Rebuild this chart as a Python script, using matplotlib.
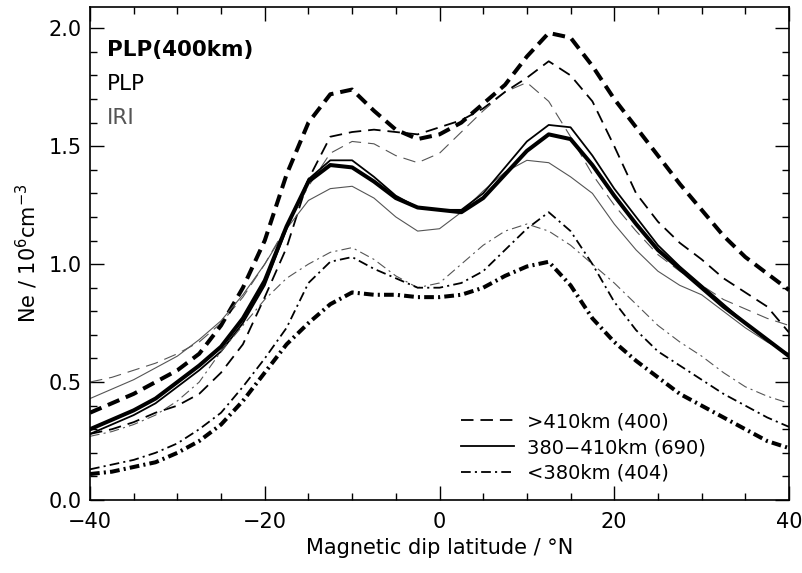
import matplotlib
matplotlib.use("Agg")
import matplotlib.pyplot as plt
from matplotlib.lines import Line2D
from matplotlib.ticker import MultipleLocator, FormatStrFormatter

plt.rcParams['font.family'] = ['DejaVu Sans']
plt.rcParams['lines.scale_dashes'] = False

lat = [-40, -37.5, -35, -32.5, -30, -27.5, -25, -22.5, -20, -17.5, -15, -12.5, -10, -7.5, -5, -2.5,
       0, 2.5, 5, 7.5, 10, 12.5, 15, 17.5, 20, 22.5, 25, 27.5, 30, 32.5, 35, 37.5, 40]

# >410 km
plp400_hi = [0.37, 0.41, 0.45, 0.50, 0.55, 0.62, 0.74, 0.90, 1.10, 1.38, 1.60, 1.72, 1.74, 1.65, 1.57, 1.53,
             1.55, 1.60, 1.68, 1.76, 1.88, 1.98, 1.96, 1.84, 1.70, 1.58, 1.46, 1.34, 1.23, 1.12, 1.03, 0.96, 0.89]
plp_hi = [0.28, 0.30, 0.33, 0.37, 0.40, 0.45, 0.54, 0.66, 0.86, 1.07, 1.36, 1.54, 1.56, 1.57, 1.56, 1.55,
          1.58, 1.61, 1.66, 1.73, 1.79, 1.86, 1.80, 1.69, 1.50, 1.30, 1.18, 1.09, 1.02, 0.94, 0.88, 0.82, 0.71]
iri_hi = [0.50, 0.52, 0.55, 0.58, 0.62, 0.67, 0.75, 0.86, 1.00, 1.16, 1.33, 1.47, 1.52, 1.51, 1.46, 1.43,
          1.47, 1.56, 1.65, 1.73, 1.77, 1.69, 1.54, 1.38, 1.25, 1.14, 1.04, 0.97, 0.91, 0.85, 0.81, 0.77, 0.74]

# 380-410 km
plp400_mid = [0.30, 0.34, 0.38, 0.43, 0.50, 0.57, 0.65, 0.77, 0.93, 1.16, 1.35, 1.42, 1.41, 1.35, 1.28, 1.24,
              1.23, 1.22, 1.28, 1.38, 1.48, 1.55, 1.53, 1.42, 1.29, 1.17, 1.06, 0.98, 0.90, 0.82, 0.75, 0.68, 0.61]
plp_mid = [0.28, 0.32, 0.36, 0.41, 0.48, 0.55, 0.63, 0.75, 0.91, 1.15, 1.36, 1.44, 1.44, 1.37, 1.29, 1.24,
           1.23, 1.23, 1.30, 1.41, 1.52, 1.59, 1.58, 1.46, 1.32, 1.20, 1.08, 0.99, 0.91, 0.83, 0.75, 0.68, 0.61]
iri_mid = [0.43, 0.47, 0.51, 0.56, 0.61, 0.68, 0.76, 0.87, 1.00, 1.15, 1.27, 1.32, 1.33, 1.28, 1.20, 1.14,
           1.15, 1.22, 1.31, 1.39, 1.44, 1.43, 1.37, 1.30, 1.17, 1.06, 0.97, 0.91, 0.87, 0.80, 0.73, 0.67, 0.62]

# <380 km
plp400_lo = [0.11, 0.12, 0.14, 0.16, 0.20, 0.25, 0.32, 0.42, 0.54, 0.66, 0.75, 0.83, 0.88, 0.87, 0.87, 0.86,
             0.86, 0.87, 0.90, 0.95, 0.99, 1.01, 0.91, 0.77, 0.67, 0.59, 0.52, 0.45, 0.40, 0.35, 0.30, 0.25, 0.22]
plp_lo = [0.13, 0.15, 0.17, 0.20, 0.24, 0.30, 0.37, 0.48, 0.60, 0.73, 0.92, 1.01, 1.03, 0.98, 0.94, 0.90,
          0.90, 0.92, 0.97, 1.06, 1.15, 1.22, 1.14, 1.00, 0.84, 0.72, 0.63, 0.57, 0.51, 0.45, 0.40, 0.35, 0.31]
iri_lo = [0.27, 0.29, 0.32, 0.36, 0.42, 0.50, 0.63, 0.74, 0.85, 0.94, 1.00, 1.05, 1.07, 1.02, 0.95, 0.90,
          0.92, 1.00, 1.08, 1.14, 1.17, 1.14, 1.08, 1.00, 0.92, 0.83, 0.74, 0.67, 0.61, 0.54, 0.48, 0.44, 0.41]

legend_labels = ['>410km (400)', '380\u2212410km (690)', '<380km (404)']
source_labels = ['PLP(400km)', 'PLP', 'IRI']

BLACK = '#000000'
GRAY = '#555555'
DASH = (0, (9, 5))
DASHDOT = (0, (7, 3, 1.5, 3))

fig = plt.figure(figsize=(8.02, 5.73), dpi=100)
ax = fig.add_axes([90 / 802, 1 - 500 / 573, 699 / 802, 493 / 573])

thick = dict(color=BLACK, lw=2.9)
med = dict(color=BLACK, lw=1.3)
thin = dict(color=GRAY, lw=0.8)

ax.plot(lat, iri_hi, linestyle=DASH, **thin)
ax.plot(lat, plp_hi, linestyle=DASH, **med)
ax.plot(lat, plp400_hi, linestyle=DASH, **thick)

ax.plot(lat, iri_mid, linestyle='-', **thin)
ax.plot(lat, plp_mid, linestyle='-', **med)
ax.plot(lat, plp400_mid, linestyle='-', **thick)

ax.plot(lat, iri_lo, linestyle=DASHDOT, **thin)
ax.plot(lat, plp_lo, linestyle=DASHDOT, **med)
ax.plot(lat, plp400_lo, linestyle=DASHDOT, **thick)

ax.set_xlim(-40, 40)
ax.set_ylim(0, 2.09)
ax.xaxis.set_major_locator(MultipleLocator(20))
ax.xaxis.set_minor_locator(MultipleLocator(5))
ax.yaxis.set_major_locator(MultipleLocator(0.5))
ax.yaxis.set_minor_locator(MultipleLocator(0.1))
ax.yaxis.set_major_formatter(FormatStrFormatter('%.1f'))
ax.tick_params(which='both', direction='in', top=True, right=True, labelsize=15, width=1.0)
ax.tick_params(which='major', length=10)
ax.tick_params(which='minor', length=5)
ax.tick_params(axis='x', which='major', pad=9)
ax.tick_params(axis='y', which='major', pad=6)
for s in ax.spines.values():
    s.set_linewidth(1.2)

ax.set_xlabel('Magnetic dip latitude / \u00b0N', fontsize=15, labelpad=4)
ax.set_ylabel('Ne / 10$^{6}$cm$^{-3}$', fontsize=15, labelpad=6)

ax.text(0.024, 0.913, source_labels[0], transform=ax.transAxes, fontsize=15.5, fontweight='bold',
        color=BLACK, va='center', ha='left')
ax.text(0.024, 0.844, source_labels[1], transform=ax.transAxes, fontsize=15.5,
        color=BLACK, va='center', ha='left')
ax.text(0.024, 0.775, source_labels[2], transform=ax.transAxes, fontsize=15.5,
        color=GRAY, va='center', ha='left')

handles = [Line2D([], [], color=BLACK, lw=1.3, linestyle=DASH),
           Line2D([], [], color=BLACK, lw=1.3, linestyle='-'),
           Line2D([], [], color=BLACK, lw=1.3, linestyle=DASHDOT)]
ax.legend(handles, legend_labels, loc='lower left', bbox_to_anchor=(0.52, 0.019), frameon=False,
          fontsize=14, handlelength=2.7, handletextpad=0.7, labelspacing=0.35, borderaxespad=0)

fig.savefig('out.png', dpi=100)
